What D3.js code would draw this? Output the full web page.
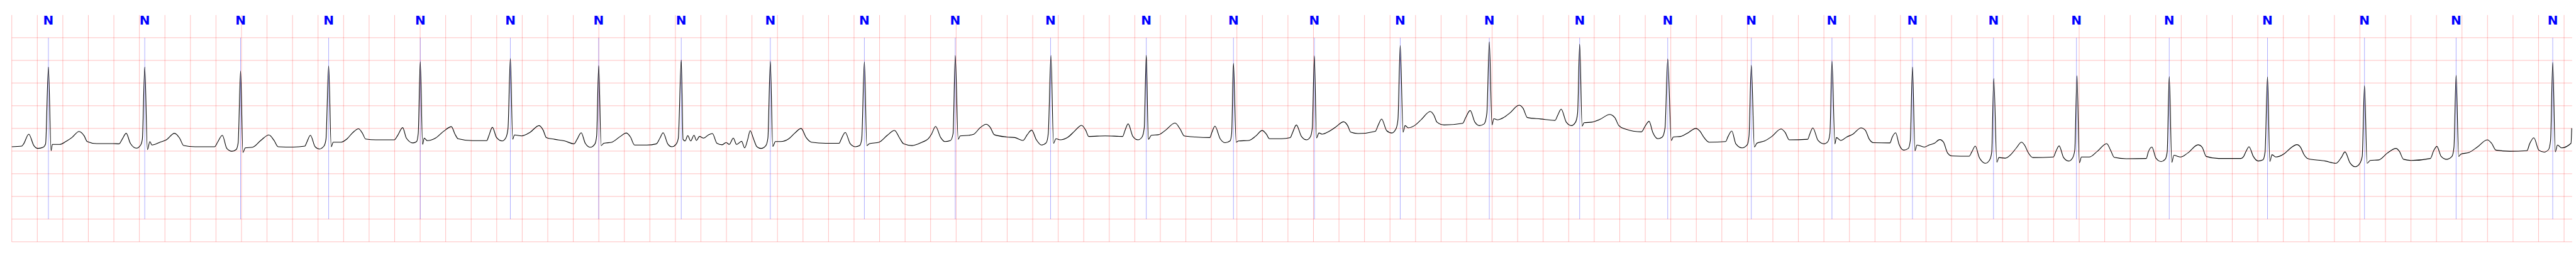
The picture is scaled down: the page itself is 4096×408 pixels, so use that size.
<!DOCTYPE html>
<html><head><meta charset="utf-8">
<script src="https://cdn.jsdelivr.net/npm/d3@7"></script>
<style>html,body{margin:0;padding:0;background:#fff;}svg{display:block;}</style>
</head><body>
<svg id="chart" width="4096" height="408"></svg>
<script>
// ECG trace: [time (s), amplitude (mV)]
const ecgTime = [];
const ecgValue = [];
const ecgPoints = [
[0.000,-0.404],[0.077,-0.391],[0.093,-0.340],[0.133,-0.126],[0.173,-0.378],[0.205,-0.441],[0.246,-0.416],[0.265,-0.340],[0.287,1.354],[0.308,-0.492],[0.318,-0.353],[0.374,-0.353],[0.423,-0.290],[0.471,-0.202],[0.527,-0.068],[0.567,-0.164],[0.591,-0.290],[0.664,-0.335],[0.792,-0.335],[0.841,-0.340],[0.865,-0.240],[0.897,-0.108],[0.929,-0.328],[0.977,-0.436],[1.010,-0.366],[1.023,-0.240],[1.042,1.354],[1.063,-0.467],[1.082,-0.290],[1.098,-0.366],[1.162,-0.303],[1.211,-0.252],[1.275,-0.108],[1.315,-0.214],[1.347,-0.378],[1.436,-0.404],[1.589,-0.404],[1.613,-0.303],[1.650,-0.151],[1.685,-0.441],[1.725,-0.504],[1.758,-0.467],[1.774,-0.315],[1.793,1.269],[1.811,-0.530],[1.830,-0.429],[1.886,-0.416],[1.951,-0.265],[2.015,-0.144],[2.055,-0.265],[2.087,-0.404],[2.208,-0.411],[2.296,-0.391],[2.312,-0.303],[2.340,-0.151],[2.377,-0.404],[2.409,-0.454],[2.446,-0.391],[2.462,-0.240],[2.483,1.380],
[2.503,-0.404],[2.519,-0.303],[2.580,-0.303],[2.628,-0.227],[2.669,-0.101],[2.717,-0.008],[2.749,-0.113],[2.773,-0.235],[2.854,-0.252],[2.998,-0.252],[3.022,-0.164],[3.063,0.018],[3.092,-0.214],[3.143,-0.320],[3.172,-0.290],[3.185,-0.113],[3.201,1.475],[3.219,-0.353],[3.232,-0.214],[3.256,-0.270],[3.320,-0.214],[3.384,-0.063],[3.445,0.038],[3.473,-0.126],[3.497,-0.227],[3.610,-0.270],[3.722,-0.270],[3.738,-0.164],[3.766,0.025],[3.799,-0.202],[3.843,-0.277],[3.870,-0.214],[3.888,-0.013],[3.907,1.544],[3.925,-0.240],[3.939,-0.144],[3.996,-0.164],[4.060,-0.088],[4.132,0.063],[4.164,-0.038],[4.189,-0.202],[4.253,-0.240],[4.333,-0.277],[4.406,-0.340],[4.430,-0.240],[4.462,-0.096],[4.494,-0.328],[4.534,-0.416],[4.570,-0.340],[4.583,-0.164],[4.599,1.387],[4.618,-0.378],[4.639,-0.328],[4.703,-0.303],[4.768,-0.177],[4.816,-0.101],[4.848,-0.189],[4.880,-0.366],[4.977,-0.366],
[5.051,-0.340],[5.079,-0.214],[5.104,-0.096],[5.140,-0.340],[5.172,-0.404],[5.204,-0.353],[5.223,-0.214],[5.246,1.508],[5.260,-0.240],[5.276,-0.277],[5.297,-0.159],[5.320,-0.277],[5.346,-0.151],[5.365,-0.265],[5.389,-0.177],[5.421,-0.214],[5.461,-0.139],[5.490,-0.113],[5.526,-0.328],[5.566,-0.361],[5.598,-0.310],[5.622,-0.353],[5.654,-0.214],[5.679,-0.353],[5.719,-0.285],[5.743,-0.429],[5.767,-0.240],[5.786,-0.050],[5.812,-0.227],[5.839,-0.404],[5.872,-0.441],[5.909,-0.378],[5.925,-0.214],[5.944,1.480],[5.963,-0.396],[5.984,-0.290],[6.024,-0.290],[6.089,-0.227],[6.137,-0.101],[6.185,0.000],[6.225,-0.202],[6.266,-0.303],[6.378,-0.328],[6.483,-0.328],[6.499,-0.240],[6.531,-0.088],[6.571,-0.340],[6.611,-0.404],[6.644,-0.378],[6.660,-0.240],[6.681,1.470],[6.700,-0.378],[6.719,-0.340],[6.796,-0.303],[6.861,-0.151],[6.917,-0.043],[6.957,-0.214],[6.989,-0.340],[7.054,-0.378],[7.134,-0.303],[7.182,-0.227],[7.207,-0.126],[7.239,0.043],[7.279,-0.202],[7.311,-0.290],[7.356,-0.265],[7.376,-0.113],[7.393,1.609],[7.416,-0.240],[7.432,-0.164],[7.501,-0.151],
[7.539,-0.126],[7.587,0.013],[7.635,0.093],[7.667,0.025],[7.699,-0.139],[7.796,-0.189],[7.860,-0.202],[7.925,-0.265],[7.957,-0.139],[7.992,-0.038],[8.029,-0.252],[8.069,-0.366],[8.106,-0.315],[8.122,-0.113],[8.143,1.609],[8.163,-0.328],[8.182,-0.227],[8.214,-0.252],[8.278,-0.189],[8.327,-0.063],[8.383,0.068],[8.415,-0.038],[8.439,-0.177],[8.568,-0.164],[8.705,-0.177],[8.721,-0.063],[8.748,0.101],[8.785,-0.177],[8.825,-0.252],[8.857,-0.189],[8.874,0.013],[8.890,1.614],[8.906,-0.240],[8.930,-0.151],[8.986,-0.139],[9.042,-0.038],[9.115,0.119],[9.155,-0.013],[9.187,-0.164],[9.276,-0.189],[9.388,-0.202],[9.404,-0.088],[9.428,0.050],[9.469,-0.227],[9.509,-0.315],[9.546,-0.277],[9.559,-0.113],[9.573,1.438],[9.594,-0.303],[9.613,-0.277],[9.694,-0.265],[9.750,-0.164],[9.798,-0.045],[9.831,-0.126],[9.855,-0.227],[9.951,-0.227],
[10.018,-0.202],[10.037,-0.088],[10.066,0.076],[10.106,-0.177],[10.146,-0.252],[10.175,-0.189],[10.191,0.013],[10.207,1.602],[10.224,-0.209],[10.243,-0.101],[10.267,-0.126],[10.323,-0.063],[10.372,0.025],[10.436,0.146],[10.468,0.063],[10.492,-0.083],[10.549,-0.113],[10.685,-0.063],[10.706,0.063],[10.734,0.207],[10.774,-0.050],[10.814,-0.101],[10.846,-0.013],[10.862,0.189],[10.880,1.829],[10.902,-0.083],[10.918,0.063],[10.943,0.013],[10.999,0.076],[11.047,0.202],[11.115,0.373],[11.144,0.290],[11.168,0.139],[11.224,0.076],[11.369,0.113],[11.393,0.240],[11.428,0.396],[11.465,0.139],[11.501,0.063],[11.538,0.101],[11.559,0.340],[11.578,1.912],[11.599,0.076],[11.613,0.214],[11.642,0.189],[11.691,0.240],[11.739,0.340],[11.811,0.512],[11.843,0.441],[11.876,0.240],[11.980,0.209],[12.093,0.177],[12.114,0.290],[12.141,0.426],[12.181,0.139],[12.221,0.063],[12.254,0.139],[12.270,0.340],[12.286,1.859],[12.305,0.050],[12.321,0.126],[12.382,0.139],[12.447,0.202],
[12.521,0.308],[12.561,0.240],[12.593,0.063],[12.642,-0.013],[12.770,-0.076],[12.799,0.050],[12.830,0.156],[12.859,-0.088],[12.899,-0.227],[12.934,-0.189],[12.955,0.013],[12.976,1.533],[13.004,-0.265],[13.020,-0.189],[13.076,-0.177],[13.132,-0.101],[13.197,0.000],[13.229,-0.063],[13.261,-0.202],[13.301,-0.303],[13.430,-0.290],[13.449,-0.177],[13.478,-0.058],[13.510,-0.340],[13.559,-0.429],[13.599,-0.361],[13.613,-0.164],[13.631,1.395],[13.655,-0.411],[13.674,-0.328],[13.735,-0.277],[13.792,-0.177],[13.864,-0.013],[13.896,-0.088],[13.929,-0.252],[14.073,-0.240],[14.089,-0.126],[14.113,0.013],[14.154,-0.265],[14.202,-0.340],[14.231,-0.290],[14.247,-0.113],[14.263,1.483],[14.286,-0.340],[14.298,-0.202],[14.331,-0.265],[14.379,-0.189],[14.427,-0.126],[14.491,0.013],[14.524,-0.038],[14.556,-0.240],[14.588,-0.315],[14.717,-0.320],[14.736,-0.189],[14.762,-0.096],[14.789,-0.353],[14.826,-0.479],[14.861,-0.441],[14.877,-0.265],[14.894,1.357],[14.913,-0.492],[14.929,-0.366],[14.987,-0.411],
[15.024,-0.366],[15.065,-0.328],[15.108,-0.247],[15.137,-0.303],[15.169,-0.542],[15.201,-0.605],[15.338,-0.613],[15.359,-0.517],[15.386,-0.391],[15.418,-0.643],[15.467,-0.769],[15.499,-0.694],[15.515,-0.517],[15.531,1.102],[15.555,-0.744],[15.571,-0.643],[15.620,-0.656],[15.668,-0.567],[15.708,-0.429],[15.748,-0.303],[15.772,-0.366],[15.800,-0.530],[15.837,-0.643],[15.998,-0.631],[16.018,-0.504],[16.043,-0.386],[16.078,-0.643],[16.118,-0.719],[16.150,-0.643],[16.166,-0.467],[16.183,1.165],[16.202,-0.757],[16.218,-0.631],[16.279,-0.631],[16.343,-0.504],[16.416,-0.335],[16.448,-0.492],[16.475,-0.638],[16.569,-0.668],[16.726,-0.663],[16.742,-0.517],[16.770,-0.411],[16.802,-0.656],[16.842,-0.731],[16.874,-0.681],[16.890,-0.517],[16.906,1.143],[16.926,-0.749],[16.942,-0.593],[16.995,-0.631],[17.051,-0.542],[17.132,-0.361],[17.164,-0.416],[17.196,-0.618],[17.292,-0.663],[17.469,-0.663],
[17.489,-0.618],[17.506,-0.517],[17.531,-0.404],[17.565,-0.618],[17.603,-0.719],[17.640,-0.694],[17.657,-0.517],[17.676,1.135],[17.694,-0.731],[17.711,-0.580],[17.741,-0.631],[17.809,-0.555],[17.859,-0.429],[17.906,-0.358],[17.935,-0.416],[17.960,-0.567],[17.994,-0.668],[18.128,-0.719],[18.212,-0.769],[18.254,-0.643],[18.283,-0.517],[18.322,-0.757],[18.364,-0.845],[18.397,-0.782],[18.418,-0.618],[18.436,0.946],[18.456,-0.769],[18.481,-0.706],[18.549,-0.694],[18.616,-0.542],[18.683,-0.441],[18.709,-0.504],[18.742,-0.681],[18.801,-0.706],[18.952,-0.663],[18.978,-0.492],[19.003,-0.396],[19.037,-0.618],[19.079,-0.681],[19.121,-0.618],[19.137,-0.416],[19.154,1.173],[19.174,-0.618],[19.191,-0.567],[19.255,-0.530],[19.323,-0.404],[19.398,-0.252],[19.432,-0.328],[19.466,-0.479],[19.575,-0.504],[19.709,-0.492],[19.730,-0.340],[19.763,-0.207],[19.802,-0.479],[19.844,-0.522],[19.878,-0.467],[19.894,-0.265],[19.911,1.455],[19.931,-0.517],[19.948,-0.366],[19.979,-0.429],[20.054,-0.328],[20.060,0.005]
];
ecgPoints.forEach(p => { ecgTime.push(p[0]); ecgValue.push(p[1]); });

// Beat annotations
const beatTimes = [0.287,1.042,1.793,2.483,3.201,3.907,4.599,5.246,5.944,6.681,7.393,8.140,8.890,9.573,10.207,10.880,11.578,12.286,12.976,13.631,14.263,14.894,15.529,16.179,16.906,17.676,18.436,19.154,19.911];
const beatLabels = ["N","N","N","N","N","N","N","N","N","N","N","N","N","N","N","N","N","N","N","N","N","N","N","N","N","N","N","N","N"];

// Grid definitions
const timeDomain = [0, 20.063];
const valueDomain = [-2.5, 2.5];
const timeGridStep = 0.2;
const valueGridStep = 0.5;

const s = 4096 / 7523;
const svg = d3.select("#chart");
const x = d3.scaleLinear().domain(timeDomain).range([34.4 * s, 7511.7 * s]);
const y = d3.scaleLinear().domain(valueDomain).range([705 * s, 43.9 * s]);

const gridColor = "rgba(255,0,0,0.25)";
const vTicks = d3.range(0, 20.0001, timeGridStep);
const hTicks = d3.range(-2.5, 2.0001, valueGridStep);

const grid = svg.append("g");
grid.selectAll("line.v").data(vTicks).join("line")
  .attr("x1", d => x(d)).attr("x2", d => x(d))
  .attr("y1", y(2.5)).attr("y2", y(-2.5))
  .attr("stroke", gridColor).attr("stroke-width", 1);
grid.selectAll("line.h").data(hTicks).join("line")
  .attr("x1", x(timeDomain[0])).attr("x2", x(timeDomain[1]))
  .attr("y1", d => y(d)).attr("y2", d => y(d))
  .attr("stroke", gridColor).attr("stroke-width", 1);

// Beat marker lines
svg.append("g").selectAll("line").data(beatTimes).join("line")
  .attr("x1", d => x(d)).attr("x2", d => x(d))
  .attr("y1", y(2.0)).attr("y2", y(-2.0))
  .attr("stroke", "rgba(0,0,255,0.55)").attr("stroke-width", 0.6);

// ECG trace
const line = d3.line()
  .x((d, i) => x(ecgTime[i]))
  .y((d, i) => y(ecgValue[i]))
  .curve(d3.curveMonotoneX);
svg.append("path")
  .attr("d", line(ecgTime))
  .attr("fill", "none").attr("stroke", "#000").attr("stroke-width", 1.1)
  .attr("stroke-linejoin", "round");

// Beat labels
svg.append("g").selectAll("text").data(beatTimes).join("text")
  .attr("x", d => x(d)).attr("y", y(2.5) + 27 * s)
  .attr("text-anchor", "middle")
  .attr("font-family", "'DejaVu Sans', 'Liberation Sans', sans-serif")
  .attr("font-weight", "bold").attr("font-size", 20)
  .attr("fill", "#0000ff")
  .text((d, i) => beatLabels[i]);
</script>
</body></html>
